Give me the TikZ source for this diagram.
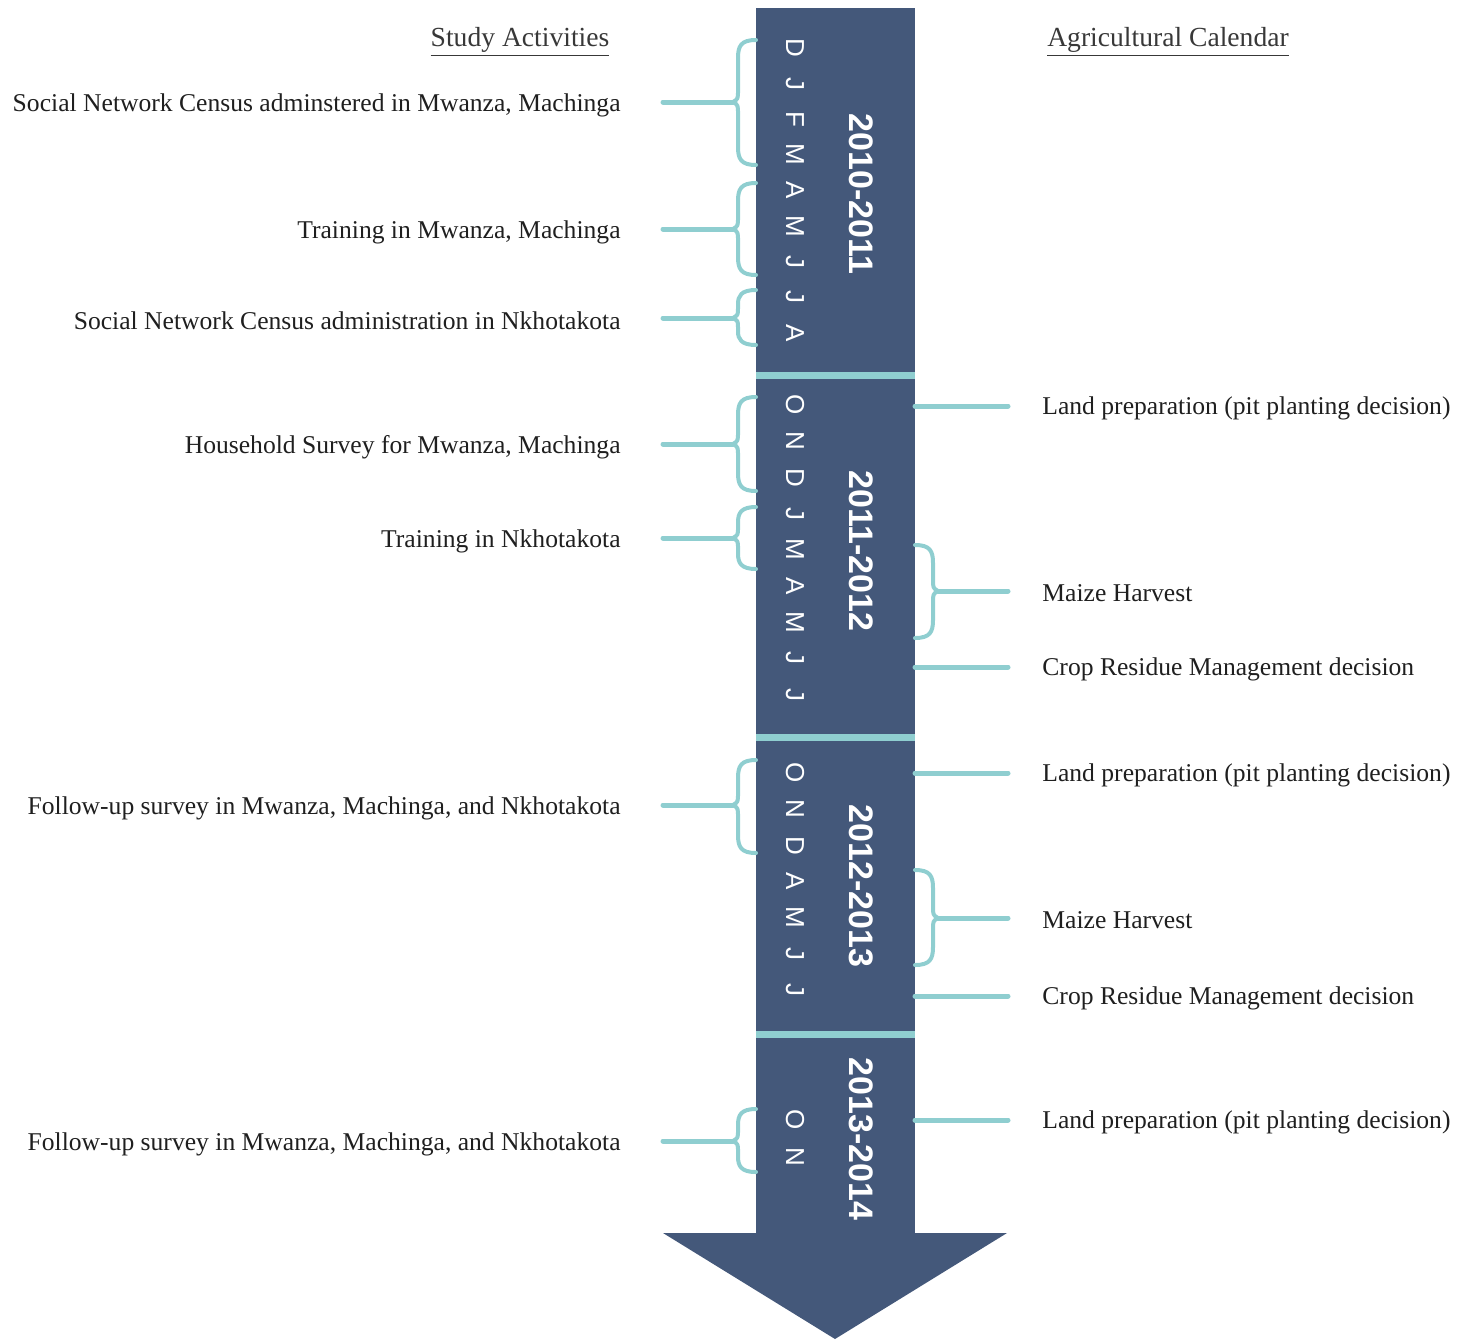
\documentclass[tikz,border=0pt]{standalone}
\usepackage{fontspec}
\setmainfont{Liberation Serif}
\setsansfont{Liberation Sans}
\usepackage{xcolor}
\definecolor{barblue}{HTML}{44587A}
\definecolor{tealline}{HTML}{8FCED0}
\usetikzlibrary{positioning}

\tikzset{
  act/.style={font=\fontsize{12.8}{15}\selectfont, text=black!88, inner sep=0pt},
  head/.style={font=\fontsize{13.8}{16}\selectfont, text=black!78, inner sep=0pt},
  month/.style={font=\sffamily\fontsize{13}{15}\selectfont, text=white, rotate=-90, inner sep=0pt},
  year/.style={font=\sffamily\bfseries\fontsize{17}{20}\selectfont, text=white, rotate=-90, inner sep=0pt},
  link/.style={tealline, line width=2.5pt, line cap=round},
  curl/.style={tealline, line width=2pt, line cap=round, line join=round},
  sepline/.style={tealline, line width=3.5pt},
}

\begin{document}
\begin{tikzpicture}[x=0.5pt, y=-0.5pt]
\useasboundingbox (0,0) rectangle (1470,1339);
%%%%% Timeline arrow %%%%%
\node[fill=barblue, inner sep=0pt, minimum width=79.5pt, minimum height=613pt, anchor=north west] (bar) at (756,8) {};
\fill[barblue] (663,1233) -- (1007,1233) -- (835,1339) -- cycle;
\foreach \y in {375,737,1034}{
\draw[sepline] (756,\y) -- (915,\y);
}
%%%%% Months and years %%%%%
\foreach \m [count=\i from 0] in {D,J,F,M,A,M,J,J,A}{
\node[month] (ma\i) at (795,{48+35.6*\i}) {\m};
}
\foreach \m [count=\i from 0] in {O,N,D,J,M,A,M,J,J}{
\node[month] (mb\i) at (795,{405+36.2*\i}) {\m};
}
\foreach \m [count=\i from 0] in {O,N,D,A,M,J,J}{
\node[month] (mc\i) at (795,{773+36.2*\i}) {\m};
}
\foreach \m [count=\i from 0] in {O,N}{
\node[month] (md\i) at (795,{1120+37*\i}) {\m};
}
\node[year] (y1) at (861,194) {2010-2011};
\node[year] (y2) at (861,551) {2011-2012};
\node[year] (y3) at (861,886) {2012-2013};
\node[year] (y4) at (861,1139) {2013-2014};
%%%%% Headers %%%%%
\node[head] (hsa) at (520,42) {\underline{Study Activities}};
\node[head] (hac) at (1168,42) {\underline{Agricultural Calendar}};
%%%%% Study activities (left) %%%%%
\foreach \t/\m/\b/\txt [count=\i] in {
40/102/165/{Social Network Census adminstered in Mwanza, Machinga},
183/229/275/{Training in Mwanza, Machinga},
290/318/345/{Social Network Census administration in Nkhotakota},
397/444/491/{Household Survey for Mwanza, Machinga},
507/538/569/{Training in Nkhotakota},
760/805/853/{Follow-up survey in Mwanza, Machinga, and Nkhotakota},
1109/1141/1172/{Follow-up survey in Mwanza, Machinga, and Nkhotakota}}{
\pgfmathsetmacro\ra{min(18,0.5*(\m-\t))}
\pgfmathsetmacro\rb{min(12,0.35*(\m-\t))}
\pgfmathsetmacro\rc{min(18,0.5*(\b-\m))}
\pgfmathsetmacro\rd{min(12,0.35*(\b-\m))}
\node[act, anchor=east] (sa\i) at (621,\m+3) {\txt};
\coordinate (ta\i) at (733,\m);
\draw[link] ([xshift=21pt]sa\i.east |- ta\i) -- (ta\i);
\draw[curl] (756,\t) .. controls (741,\t) and (738,\t+6) .. (738,\t+\ra) -- (738,\m-\rb)
  .. controls (738,\m-3) .. (ta\i) .. controls (738,\m+3) .. (738,\m+\rd) -- (738,\b-\rc)
  .. controls (738,\b-6) and (741,\b) .. (756,\b);
}
%%%%% Agricultural calendar (right) %%%%%
\foreach \y/\txt [count=\i] in {
406/{Land preparation (pit planting decision)},
667/{Crop Residue Management decision},
773/{Land preparation (pit planting decision)},
996/{Crop Residue Management decision},
1120/{Land preparation (pit planting decision)}}{
\node[act, anchor=west] (ac\i) at (1042,\y+2) {\txt};
\coordinate (ra\i) at (915,\y);
\draw[link] ([xshift=-17pt]ac\i.west |- ra\i) -- (ra\i);
}
\foreach \t/\m/\b [count=\i] in {545/591/638, 870/918/965}{
\node[act, anchor=west] (mh\i) at (1042,\m+2) {Maize Harvest};
\coordinate (tm\i) at (938,\m);
\draw[link] ([xshift=-17pt]mh\i.west |- tm\i) -- (tm\i);
\draw[curl] (915,\t) .. controls (930,\t) and (933,\t+6) .. (933,\t+18) -- (933,\m-12)
  .. controls (933,\m-3) .. (tm\i) .. controls (933,\m+3) .. (933,\m+12) -- (933,\b-18)
  .. controls (933,\b-6) and (930,\b) .. (915,\b);
}
\end{tikzpicture}
\end{document}
